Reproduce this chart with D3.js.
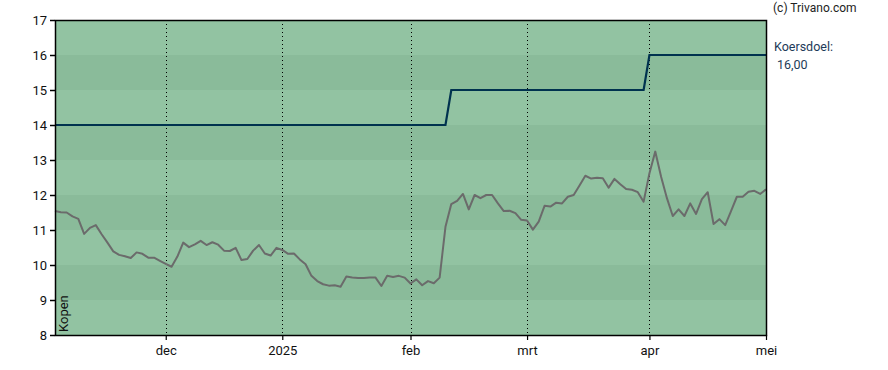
<!DOCTYPE html>
<html>
<head>
<meta charset="utf-8">
<script src="https://cdn.jsdelivr.net/npm/d3@7"></script>
<style>
  body { margin: 0; background: #fff; }
  svg text { font-family: Roboto, "Liberation Sans", sans-serif; }
</style>
</head>
<body>
<div id="chart"></div>
<script>
// koers per handelsdag (index 0 = begin november)
const prices = [
  11.54, 11.51, 11.50, 11.39, 11.32, 10.89, 11.06, 11.14, 10.88, 10.64,
  10.39, 10.29, 10.25, 10.20, 10.36, 10.32, 10.21, 10.21, 10.12, 10.03,
  9.95, 10.24, 10.64, 10.51, 10.59, 10.69, 10.57, 10.65, 10.58, 10.41,
  10.40, 10.49, 10.14, 10.17, 10.41, 10.57, 10.33, 10.27, 10.49, 10.43,
  10.32, 10.33, 10.16, 10.02, 9.69, 9.54, 9.45, 9.41, 9.42, 9.38,
  9.67, 9.64, 9.63, 9.63, 9.64, 9.64, 9.40, 9.69, 9.66, 9.69,
  9.64, 9.47, 9.59, 9.42, 9.54, 9.48, 9.64, 11.09, 11.74, 11.83,
  12.03, 11.59, 12.00, 11.91, 12.00, 12.00, 11.76, 11.54, 11.55, 11.48,
  11.29, 11.27, 11.01, 11.24, 11.69, 11.67, 11.78, 11.76, 11.95, 12.00,
  12.27, 12.55, 12.47, 12.49, 12.48, 12.21, 12.46, 12.31, 12.17, 12.15,
  12.08, 11.81, 12.62, 13.24, 12.52, 11.91, 11.40, 11.59, 11.40, 11.76,
  11.46, 11.88, 12.08, 11.17, 11.31, 11.14, 11.54, 11.95, 11.95, 12.09,
  12.12, 12.03, 12.16
];

// koersdoel (index, waarde)
const targetIdx = [0, 67, 68, 101, 102, 122];
const targetVals = [14, 14, 15, 15, 16, 16];

// maand-ticks (handelsdag-index)
const monthIdx = [19, 39, 61, 81, 102, 122];
const monthLabels = ["dec", "2025", "feb", "mrt", "apr", "mei"];

const yTicks = [8, 9, 10, 11, 12, 13, 14, 15, 16, 17];

const width = 888, height = 370;
const margin = { top: 20, right: 122, bottom: 35, left: 55 };
const innerW = width - margin.left - margin.right;
const innerH = height - margin.top - margin.bottom;

const svg = d3.select("#chart").append("svg")
  .attr("width", width)
  .attr("height", height);

const x = d3.scaleLinear().domain([0, 122]).range([margin.left, margin.left + innerW]);
const y = d3.scaleLinear().domain([8, 17]).range([margin.top + innerH, margin.top]);

// achtergrondbanden
svg.selectAll(".band")
  .data(d3.range(8, 17))
  .enter()
  .append("rect")
  .attr("class", "band")
  .attr("x", x(0))
  .attr("width", x(122) - x(0))
  .attr("y", (d) => y(d + 1))
  .attr("height", (d) => y(d) - y(d + 1))
  .attr("fill", (d) => (d % 2 === 0 ? "#92c3a2" : "#8abb9a"));

// verticale stippellijnen
svg.selectAll(".vgrid")
  .data(monthIdx.slice(0, -1))
  .enter()
  .append("line")
  .attr("class", "vgrid")
  .attr("x1", (d) => Math.round(x(d)) + 0.5)
  .attr("x2", (d) => Math.round(x(d)) + 0.5)
  .attr("y1", y(17))
  .attr("y2", y(8))
  .attr("stroke", "#000")
  .attr("stroke-width", 1)
  .attr("stroke-dasharray", "1,3");

// koersdoel lijn
const targetLine = d3.line()
  .x((d, i) => x(targetIdx[i]))
  .y((d) => y(d));

svg.append("path")
  .attr("d", targetLine(targetVals))
  .attr("fill", "none")
  .attr("stroke", "#00324f")
  .attr("stroke-width", 2.2);

// koers lijn
const priceLine = d3.line()
  .x((d, i) => x(i))
  .y((d) => y(d));

svg.append("path")
  .attr("d", priceLine(prices))
  .attr("fill", "none")
  .attr("stroke", "#6b6b6b")
  .attr("stroke-width", 2)
  .attr("stroke-linejoin", "round");

// rand
svg.append("rect")
  .attr("x", x(0) + 0.5)
  .attr("y", y(17) + 0.5)
  .attr("width", x(122) - x(0))
  .attr("height", y(8) - y(17))
  .attr("fill", "none")
  .attr("stroke", "#000")
  .attr("stroke-width", 1.5);

// y-as
const yAxis = svg.append("g")
  .attr("transform", `translate(${x(0)},0)`)
  .call(d3.axisLeft(y).tickValues(yTicks).tickSize(5).tickPadding(3).tickFormat(d3.format("d")));
yAxis.select(".domain").remove();
yAxis.selectAll("text").attr("font-size", 13).attr("fill", "#111").style("font-family", "Roboto, sans-serif");
yAxis.selectAll("line").attr("stroke", "#000").attr("stroke-width", 1.5);

// x-as
const xAxis = svg.append("g")
  .attr("transform", `translate(0,${y(8)})`)
  .call(d3.axisBottom(x).tickValues(monthIdx).tickSize(5).tickPadding(6)
    .tickFormat((d, i) => monthLabels[i]));
xAxis.select(".domain").remove();
xAxis.selectAll("text").attr("font-size", 13).attr("fill", "#111").style("font-family", "Roboto, sans-serif");
xAxis.selectAll("line").attr("stroke", "#000").attr("stroke-width", 1.2);

// advies label
svg.append("text")
  .attr("transform", `translate(68,332) rotate(-90)`)
  .attr("font-size", 13)
  .attr("fill", "#111")
  .text("Kopen");

// teksten rechts
svg.append("text")
  .attr("x", 773)
  .attr("y", 12)
  .attr("font-size", 12)
  .attr("fill", "#222")
  .text("(c) Trivano.com");

svg.append("text")
  .attr("x", 774)
  .attr("y", 51)
  .attr("font-size", 12.5)
  .attr("fill", "#1d3a58")
  .text("Koersdoel:");

svg.append("text")
  .attr("x", 777)
  .attr("y", 69)
  .attr("font-size", 12.5)
  .attr("fill", "#1d3a58")
  .text("16,00");
</script>
</body>
</html>
